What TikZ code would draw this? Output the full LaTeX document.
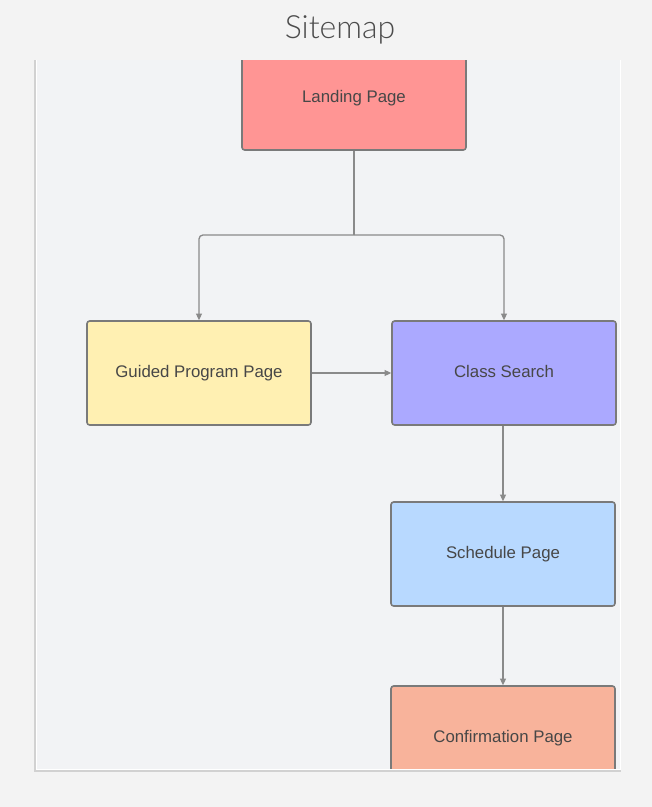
\documentclass[tikz,border=0pt]{standalone}
\usepackage{fontspec}
\usepackage{tikz}
\usetikzlibrary{arrows.meta}
\setmainfont{Liberation Sans}
\newfontfamily\titlefont{Lato Light}
\definecolor{pagebg}{HTML}{F3F3F3}
\definecolor{panelbg}{HTML}{F2F3F5}
\definecolor{edge}{HTML}{7A7A7A}
\definecolor{wire}{HTML}{8A8A8A}
\definecolor{landfill}{HTML}{FF9594}
\definecolor{guidefill}{HTML}{FFF0B2}
\definecolor{searchfill}{HTML}{ABA9FF}
\definecolor{schedfill}{HTML}{B8D9FF}
\definecolor{confirmfill}{HTML}{F8B39B}

\begin{document}
\begin{tikzpicture}[x=0.75pt,y=-0.75pt]
\tikzstyle{page}=[draw=edge, line width=1.2pt, rounded corners=2pt, minimum width=168pt, minimum height=78pt, inner sep=0pt, text=black!72, font=\fontsize{12.6}{14}\selectfont]
\tikzstyle{wire}=[draw=wire, line width=1pt, rounded corners=3pt, -{Triangle[length=5pt,width=4.5pt]}]
\fill [pagebg] (0,0) rectangle (652,807);
\useasboundingbox (0,0) rectangle (652,807);
\node [text=black!70, font=\titlefont\fontsize{24}{28}\selectfont] (title) at (340,30) {Sitemap};
\fill [black!18] (33.5,60) rectangle (621,771.5);
\fill [white] (35.5,60) rectangle (620.5,770);
\fill [panelbg] (37,60) rectangle (619.5,768.5);
\begin{scope}
\clip (37,60) rectangle (619.5,768.5);
\node [page, fill=landfill] (land) at (354,98) {\raisebox{2.2pt}{Landing Page}};
\node [page, fill=guidefill] (guide) at (199,373) {\raisebox{2.2pt}{Guided Program Page}};
\node [page, fill=searchfill] (search) at (504,373) {\raisebox{2.2pt}{Class Search}};
\node [page, fill=schedfill] (sched) at (503,554) {\raisebox{2.2pt}{Schedule Page}};
\node [page, fill=confirmfill] (confirm) at (503,738) {\raisebox{2.2pt}{Confirmation Page}};
\coordinate (split) at (354,235);
\draw [draw=wire, line width=1pt] (land.south) -- (split);
\draw [wire] (split) -| (guide.north);
\draw [wire] (split) -| (search.north);
\draw [wire] (guide.east) -- (search.west);
\draw [wire] (search.south -| sched.north) -- (sched.north);
\draw [wire] (sched.south) -- (confirm.north);
\end{scope}
\end{tikzpicture}
\end{document}
